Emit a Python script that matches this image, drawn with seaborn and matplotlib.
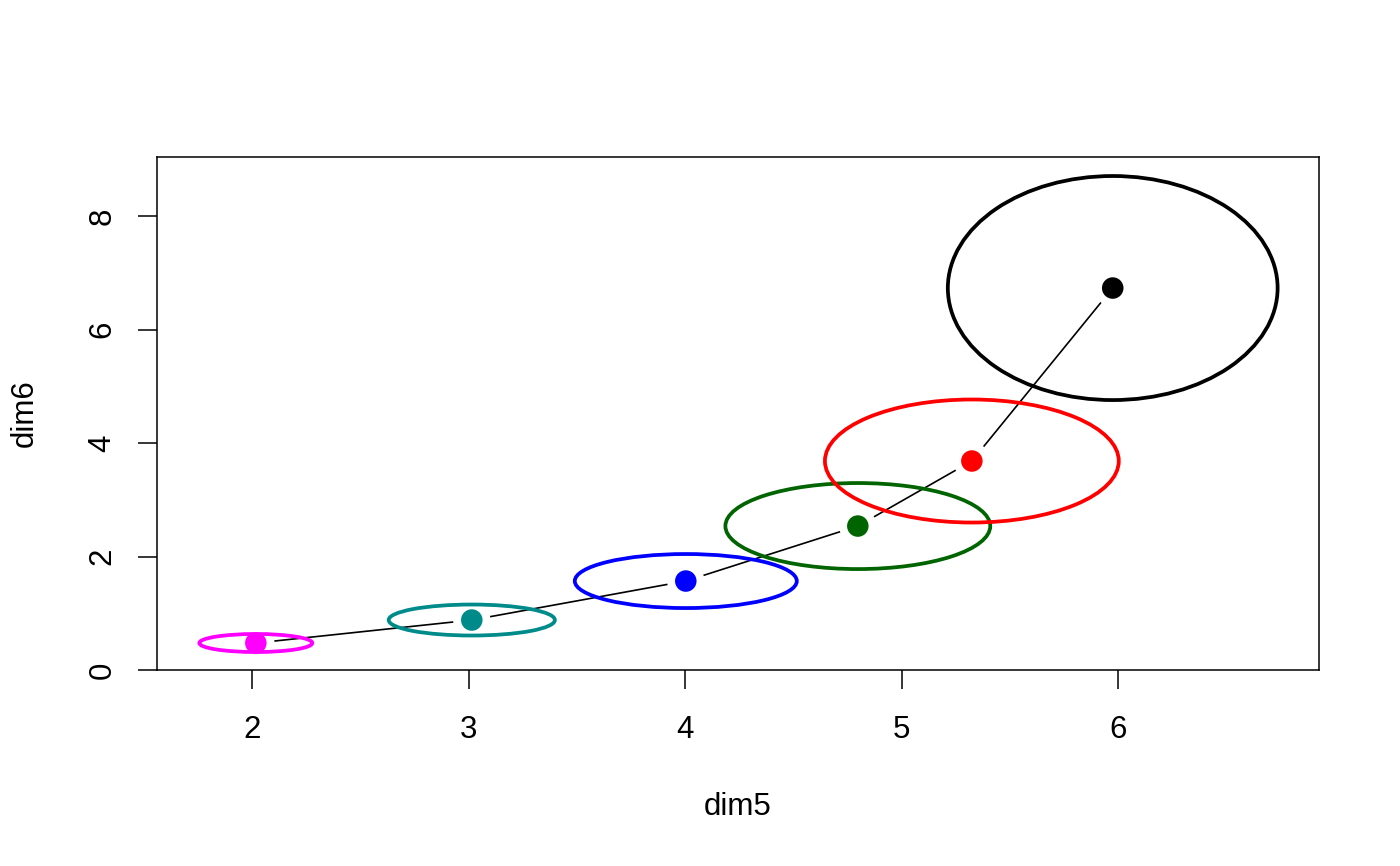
import matplotlib
matplotlib.use("Agg")
import matplotlib.pyplot as plt
from matplotlib.patches import Ellipse
import pandas as pd
import seaborn as sns

# group centres and ellipse half-axes (data units)
groups = ["g1", "g2", "g3", "g4", "g5", "g6"]
dim5 = [2.016, 3.014, 4.003, 4.798, 5.325, 5.976]
dim6 = [0.476, 0.881, 1.568, 2.537, 3.683, 6.731]
half_w = [0.261, 0.384, 0.513, 0.612, 0.679, 0.762]
half_h = [0.159, 0.273, 0.476, 0.758, 1.084, 1.974]
colors = ["#FF00FF", "#008B8B", "#0000FF", "#006400", "#FF0000", "#000000"]

x_ticks = [2, 3, 4, 5, 6]
y_ticks = [0, 2, 4, 6, 8]

df = pd.DataFrame({"group": groups, "dim5": dim5, "dim6": dim6})

sns.set_theme(style="white")
plt.rcParams["font.family"] = ["Liberation Sans", "DejaVu Sans"]
plt.rcParams["text.color"] = "black"
plt.rcParams["axes.labelcolor"] = "black"
plt.rcParams["xtick.color"] = "black"
plt.rcParams["ytick.color"] = "black"

fig = plt.figure(figsize=(14, 8.66), dpi=100)
ax = fig.add_axes([0.1121, 0.2263, 0.83, 0.5924])

# connecting line (R type="b": gaps around the points)
sns.lineplot(data=df, x="dim5", y="dim6", sort=False, color="black",
             linewidth=1.2, ax=ax, zorder=1)
ax.scatter(dim5, dim6, s=720, color="white", edgecolor="none", zorder=2)

for cx, cy, w, h, c in zip(dim5, dim6, half_w, half_h, colors):
    ax.add_patch(Ellipse((cx, cy), 2 * w, 2 * h, fill=False, edgecolor=c,
                         linewidth=2.7, zorder=3))

sns.scatterplot(data=df, x="dim5", y="dim6", hue="group", palette=colors,
                s=240, edgecolor="none", legend=False, ax=ax, zorder=4)

ax.set_xlim(1.559, 6.929)
ax.set_ylim(0, 9.04)
ax.set_xticks(x_ticks)
ax.set_yticks(y_ticks)
ax.set_xlabel("dim5", fontsize=22.5, labelpad=34)
ax.set_ylabel("dim6", fontsize=22.5, labelpad=34)

for s in ax.spines.values():
    s.set_visible(True)
    s.set_color("black")
    s.set_linewidth(1.1)

ax.tick_params(axis="both", direction="out", length=13.5, width=1.1,
               labelsize=22.5, bottom=True, left=True)
ax.tick_params(axis="x", pad=19)
ax.tick_params(axis="y", pad=15, labelrotation=90)
for lab in ax.get_yticklabels():
    lab.set_va("center")

fig.savefig("out.png", dpi=100)
